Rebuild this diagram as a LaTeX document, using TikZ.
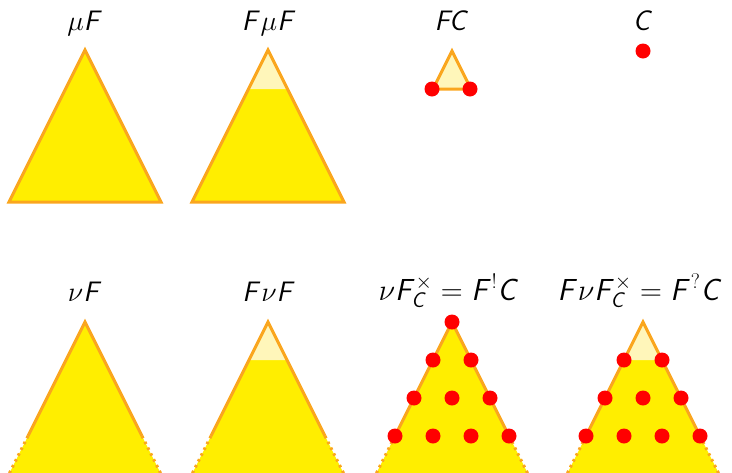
\documentclass[tikz,border=0pt]{standalone}
\usepackage{graphicx}
\usepackage{tikz}
% sans-serif slanted letters for F and C in formulas
\DeclareSymbolFont{sfletters}{OT1}{cmss}{m}{sl}
\DeclareMathSymbol{F}{\mathalpha}{sfletters}{`F}
\DeclareMathSymbol{C}{\mathalpha}{sfletters}{`C}
\DeclareMathSizes{24.88}{24.88}{17.28}{12}
\newcommand\labeltext[2][1.13]{\scalebox{#1}{\fontsize{24.88}{28}\selectfont$#2$}}
\definecolor{treefill}{RGB}{255,238,0}
\definecolor{treeedge}{RGB}{250,166,30}
\definecolor{treelight}{RGB}{255,246,186}
\definecolor{leaf}{RGB}{255,0,0}
\tikzset{
  lbl/.style={anchor=base, inner sep=0pt},
  edge/.style={draw=treeedge, line width=3pt},
  dotedge/.style={draw=treeedge, line width=3pt, dash pattern=on 2.5pt off 4pt},
  leafdot/.style={fill=leaf, draw=none},
}
% finite tree: apex x, apex y, light top (0 = none)
\newcommand\finitetree[3]{%
  \fill[treefill] (#1,#2) -- ++(-76,152) -- ++(152,0) -- cycle;
  \ifnum#3>0
    \fill[treelight] (#1,#2) -- ++(-19.5,39) -- ++(39,0) -- cycle;
  \fi
  \draw[edge] (#1,#2) -- ++(-76,152) -- ++(152,0) -- cycle;
}
% infinite tree, cut at the bottom of the picture
\newcommand\infinitetree[3]{%
  \fill[treefill] (#1,#2) -- ++(-76,152) -- ++(152,0) -- cycle;
  \ifnum#3>0
    \fill[treelight] (#1,#2) -- ++(-19,38) -- ++(38,0) -- cycle;
  \fi
  \draw[edge] (#1,#2) ++(-57,114) -- ++(57,-114) -- ++(57,114);
  \draw[dotedge] (#1,#2) ++(-57,114) -- ++(-19,38);
  \draw[dotedge] (#1,#2) ++(57,114) -- ++(19,38);
}
\newcommand\leaf[2]{\fill[leafdot] (#1,#2) circle (7.5);}
\begin{document}
\begin{tikzpicture}[x=1pt,y=-1pt]
\useasboundingbox (0,0) rectangle (732,472);
\begin{scope}
\clip (0,0) rectangle (732,472);

% labels
\node[lbl] (muF)  at (85,30)  {\labeltext{\mu F}};
\node[lbl] (FmuF) at (269,30) {\labeltext{F\mu F}};
\node[lbl] (FC)   at (452,30) {\labeltext{FC}};
\node[lbl] (C)    at (643,30) {\labeltext{C}};
\node[lbl] (nuF)  at (85,301)  {\labeltext{\nu F}};
\node[lbl] (FnuF) at (269,301) {\labeltext{F\nu F}};
\node[lbl] (fin)  at (449,300) {\labeltext[1.22]{\nu F_C^{\times} = F^{\mathsf{!}}C}};
\node[lbl] (fix)  at (640,300) {\labeltext[1.22]{F\nu F_C^{\times} = F^{\mathsf{?}}C}};

% top row
\finitetree{85}{50}{0}
\finitetree{268}{50}{1}
\fill[treelight] (452,51) -- (433,89) -- (471,89) -- cycle;
\draw[edge] (452,51) -- (433,89) -- (471,89) -- cycle;
\leaf{432}{89}\leaf{470}{89}
\leaf{643}{51}

% bottom row
\infinitetree{85}{322}{0}
\infinitetree{268}{322}{1}
\infinitetree{452}{322}{0}
\infinitetree{643}{322}{1}

% leaves of the final coalgebra
\leaf{452}{322}
\leaf{433}{360}\leaf{471}{360}
\leaf{414}{398}\leaf{452}{398}\leaf{490}{398}
\leaf{395}{436}\leaf{433}{436}\leaf{471}{436}\leaf{509}{436}

\leaf{624}{360}\leaf{662}{360}
\leaf{605}{398}\leaf{643}{398}\leaf{681}{398}
\leaf{586}{436}\leaf{624}{436}\leaf{662}{436}\leaf{700}{436}
\end{scope}
\end{tikzpicture}
\end{document}
